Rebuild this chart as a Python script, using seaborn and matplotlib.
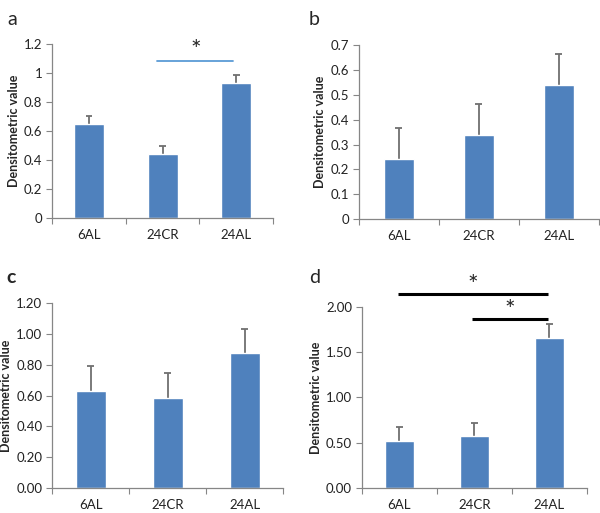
import numpy as np
import pandas as pd
import seaborn as sns
import matplotlib.pyplot as plt
from matplotlib.ticker import FixedLocator

groups = ["6AL", "24CR", "24AL"]

# panel values (mean, upper error)
a_mean = [0.65, 0.445, 0.935]
a_err = [0.055, 0.055, 0.055]
b_mean = [0.24, 0.34, 0.54]
b_err = [0.125, 0.125, 0.125]
c_mean = [0.63, 0.585, 0.875]
c_err = [0.165, 0.16, 0.155]
d_mean = [0.52, 0.575, 1.66]
d_err = [0.15, 0.14, 0.15]

a_ticks = [0, 0.2, 0.4, 0.6, 0.8, 1, 1.2]
a_labels = ["0", "0.2", "0.4", "0.6", "0.8", "1", "1.2"]
b_ticks = [0, 0.1, 0.2, 0.3, 0.4, 0.5, 0.6, 0.7]
b_labels = ["0", "0.1", "0.2", "0.3", "0.4", "0.5", "0.6", "0.7"]
c_ticks = [0, 0.2, 0.4, 0.6, 0.8, 1.0, 1.2]
c_labels = ["0.00", "0.20", "0.40", "0.60", "0.80", "1.00", "1.20"]
d_ticks = [0, 0.5, 1.0, 1.5, 2.0]
d_labels = ["0.00", "0.50", "1.00", "1.50", "2.00"]

sns.set_style("white")
plt.rcParams['font.family'] = ['Lato', 'DejaVu Sans']

BAR = "#4F81BD"
AXC = "#868686"
ERR = "#707070"

fig = plt.figure(figsize=(6.0, 5.13), dpi=100)

panels = [
    ("a", a_mean, a_err, a_ticks, a_labels, [0.087, 0.575, 0.368, 0.339], 0.41),
    ("b", b_mean, b_err, b_ticks, b_labels, [0.598, 0.573, 0.400, 0.339], 0.375),
    ("c", c_mean, c_err, c_ticks, c_labels, [0.087, 0.049, 0.385, 0.360], 0.39),
    ("d", d_mean, d_err, d_ticks, d_labels, [0.603, 0.049, 0.375, 0.353], 0.39),
]

axes = {}
for name, mean, err, ticks, labels, rect, w in panels:
    ax = fig.add_axes(rect)
    df = pd.DataFrame({"group": groups, "value": mean})
    sns.barplot(data=df, x="group", y="value", color=BAR, saturation=1,
                width=w, errorbar=None, ax=ax, zorder=2)
    # upper-only error bars, excel style
    x = np.arange(len(groups))
    top = np.array(mean) + np.array(err)
    ax.vlines(x, mean, top, color=ERR, lw=1.3, zorder=1)
    ax.hlines(top, x - 0.045, x + 0.045, color=ERR, lw=1.3, zorder=1)
    ax.set_xlim(-0.5, 2.5)
    ax.set_ylim(ticks[0], ticks[-1])
    ax.set_yticks(ticks)
    ax.set_yticklabels(labels)
    ax.xaxis.set_minor_locator(FixedLocator([-0.5, 0.5, 1.5, 2.5]))
    ax.tick_params(axis="x", which="major", length=0, pad=8, labelsize=9.5, labelcolor="#222222")
    ax.tick_params(axis="x", which="minor", length=4, color=AXC, width=0.8, direction="out", bottom=True)
    ax.tick_params(axis="y", length=4, color=AXC, width=0.8, direction="out", left=True,
                   labelsize=9.5, labelcolor="#222222", pad=3)
    for s in ["top", "right"]:
        ax.spines[s].set_visible(False)
    for s in ["left", "bottom"]:
        ax.spines[s].set_color(AXC)
        ax.spines[s].set_linewidth(0.9)
    ax.set_xlabel("")
    ax.set_ylabel("Densitometric value", fontsize=9, fontweight="bold", labelpad=3)
    axes[name] = ax

# panel letters
fig.text(0.012, 0.978, "a", fontsize=14, va="top")
fig.text(0.515, 0.978, "b", fontsize=14, va="top")
fig.text(0.010, 0.475, "c", fontsize=14, va="top", fontweight="bold")
fig.text(0.515, 0.475, "d", fontsize=14, va="top")

# significance markers
ax = axes["a"]
ax.plot([0.92, 1.95], [1.083, 1.083], color="#5B9BD5", lw=1.3, clip_on=False)
ax.text(1.45, 1.08, "*", ha="center", va="bottom", fontsize=18)

ax = axes["d"]
ax.plot([-0.02, 1.98], [2.14, 2.14], color="black", lw=2.2, clip_on=False, solid_capstyle="butt")
ax.text(0.98, 2.11, "*", ha="center", va="bottom", fontsize=18)
ax.plot([0.97, 1.98], [1.865, 1.865], color="black", lw=2.2, clip_on=False, solid_capstyle="butt")
ax.text(1.47, 1.835, "*", ha="center", va="bottom", fontsize=18)

fig.savefig("out.png", dpi=100)
